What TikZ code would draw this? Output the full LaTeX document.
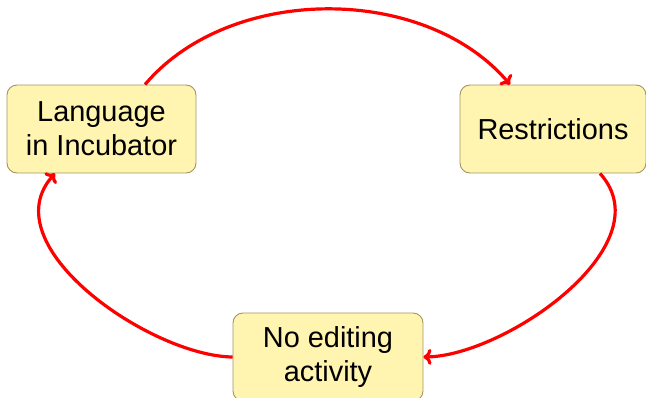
\documentclass[tikz,border=0pt]{standalone}
\usepackage{fontspec}
\setmainfont{Liberation Sans}
\usetikzlibrary{arrows.meta}
\definecolor{boxfill}{RGB}{255,245,176}
\definecolor{boxline}{RGB}{160,150,100}
\tikzset{
  statebox/.style={draw=boxline, line width=0.9pt, fill=boxfill, rounded corners=10pt,
    align=center, inner sep=0pt, minimum height=88pt,
    font=\fontsize{28.9}{34}\selectfont},
  flow/.style={draw=red, line width=3.2pt, -{To[length=8pt,width=16pt]}}
}
\begin{document}
\begin{tikzpicture}[x=1pt,y=-1pt]
\useasboundingbox (0,0) rectangle (646,398);
\node[statebox, minimum width=189pt] (lang) at (101.5,129) {Language\\in Incubator};
\node[statebox, minimum width=186pt] (restr) at (553,129) {Restrictions};
\node[statebox, minimum width=190pt] (noedit) at (328,357) {No editing\\activity};
\draw[flow] ([xshift=43.5pt]lang.north) .. controls (230,-16) and (425,-16) .. ([xshift=-43pt]restr.north);
\draw[flow] ([xshift=47pt]restr.south) .. controls (665,245) and (505,356) .. (noedit.east);
\draw[flow] (noedit.west) .. controls (150,356) and (-10,245) .. ([xshift=-46.5pt]lang.south);
\end{tikzpicture}
\end{document}
